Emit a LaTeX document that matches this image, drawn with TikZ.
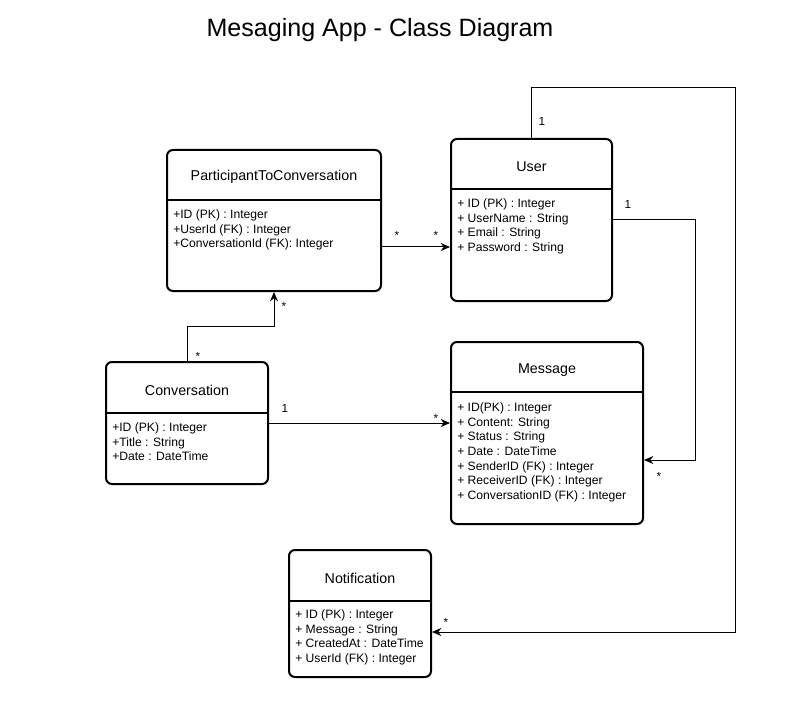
\documentclass[tikz,border=0pt]{standalone}
\usepackage{fontspec}
\setmainfont{Liberation Sans}
\usetikzlibrary{arrows.meta}
\tikzset{
  classbox/.style={draw, line width=1.5pt, rounded corners=4.5pt, inner sep=0pt},
  classname/.style={inner sep=0pt, font=\fontsize{10.7}{12}\selectfont},
  attr/.style={anchor=north west, inner sep=0pt, align=left, font=\fontsize{9.1}{11}\selectfont},
  conn/.style={line width=0.75pt, -{Stealth[length=7pt,width=6pt]}},
  mult/.style={inner sep=0pt, font=\fontsize{8.8}{10}\selectfont}
}
\begin{document}
\begin{tikzpicture}[x=0.75pt,y=-0.75pt]
\useasboundingbox (0,0) rectangle (794,717);
\node[font=\fontsize{18.8}{22}\selectfont] (title) at (380,30) {Mesaging App - Class Diagram};
% classes
\node[classbox, minimum width=160.5pt, minimum height=105.75pt] (ptc) at (274,220.5) {};
\draw[line width=1.5pt] (ptc.west |- 0,200) -- (ptc.east |- 0,200);
\node[classname] (ptcname) at (274,177) {ParticipantToConversation};
\node[attr] (ptcattr) at (173,209.5) {+ID (PK) : Integer\\+UserId (FK) : Integer\\+ConversationId (FK): Integer};

\node[classbox, minimum width=120.75pt, minimum height=121.5pt] (user) at (531.5,220) {};
\draw[line width=1.5pt] (user.west |- 0,189) -- (user.east |- 0,189);
\node[classname] (username) at (531.5,167) {User};
\node[attr] (userattr) at (457,198.5) {+ ID (PK) : Integer\\+ UserName : String\\+ Email : String\\+ Password : String};

\node[classbox, minimum width=121.5pt, minimum height=91.5pt] (conv) at (187,423) {};
\draw[line width=1.5pt] (conv.west |- 0,413) -- (conv.east |- 0,413);
\node[classname] (convname) at (187,390) {Conversation};
\node[attr] (convattr) at (112,422.5) {+ID (PK) : Integer\\+Title : String\\+Date : DateTime};

\node[classbox, minimum width=144pt, minimum height=136.5pt] (msg) at (547,433) {};
\draw[line width=1.5pt] (msg.west |- 0,392) -- (msg.east |- 0,392);
\node[classname] (msgname) at (547,370) {Message};
\node[attr] (msgattr) at (457,402.5) {+ ID(PK) : Integer\\+ Content: String\\+ Status : String\\+ Date : DateTime\\+ SenderID (FK) : Integer\\+ ReceiverID (FK) : Integer\\+ ConversationID (FK) : Integer};

\node[classbox, minimum width=106.5pt, minimum height=95.25pt] (notif) at (360,613.5) {};
\draw[line width=1.5pt] (notif.west |- 0,601) -- (notif.east |- 0,601);
\node[classname] (notifname) at (360,578) {Notification};
\node[attr] (notifattr) at (295,609.5) {+ ID (PK) : Integer\\+ Message : String\\+ CreatedAt : DateTime\\+ UserId (FK) : Integer};

% associations
\draw[conn] (ptc.east |- 0,247) -- (user.west |- 0,247);
\node[mult] (m1) at (397,235) {*};
\node[mult] (m2) at (436,235) {*};

\draw[conn] (conv.north) -- ++(0,-35) -| (ptc.south);
\node[mult] (m3) at (198,356) {*};
\node[mult] (m4) at (284,306) {*};

\draw[conn] (conv.east) -- (conv.east -| msg.west);
\node[mult] (m5) at (285,408) {1};
\node[mult] (m6) at (436,418) {*};

\draw[conn] (user.east) -- ++(82,0) |- (msg.east |- 0,460);
\node[mult] (m7) at (628,204) {1};
\node[mult] (m8) at (659,476) {*};

\draw[conn] (user.north) |- (735,88) |- (notif.east |- 0,632);
\node[mult] (m9) at (542,121) {1};
\node[mult] (m10) at (446,622) {*};
\end{tikzpicture}
\end{document}
